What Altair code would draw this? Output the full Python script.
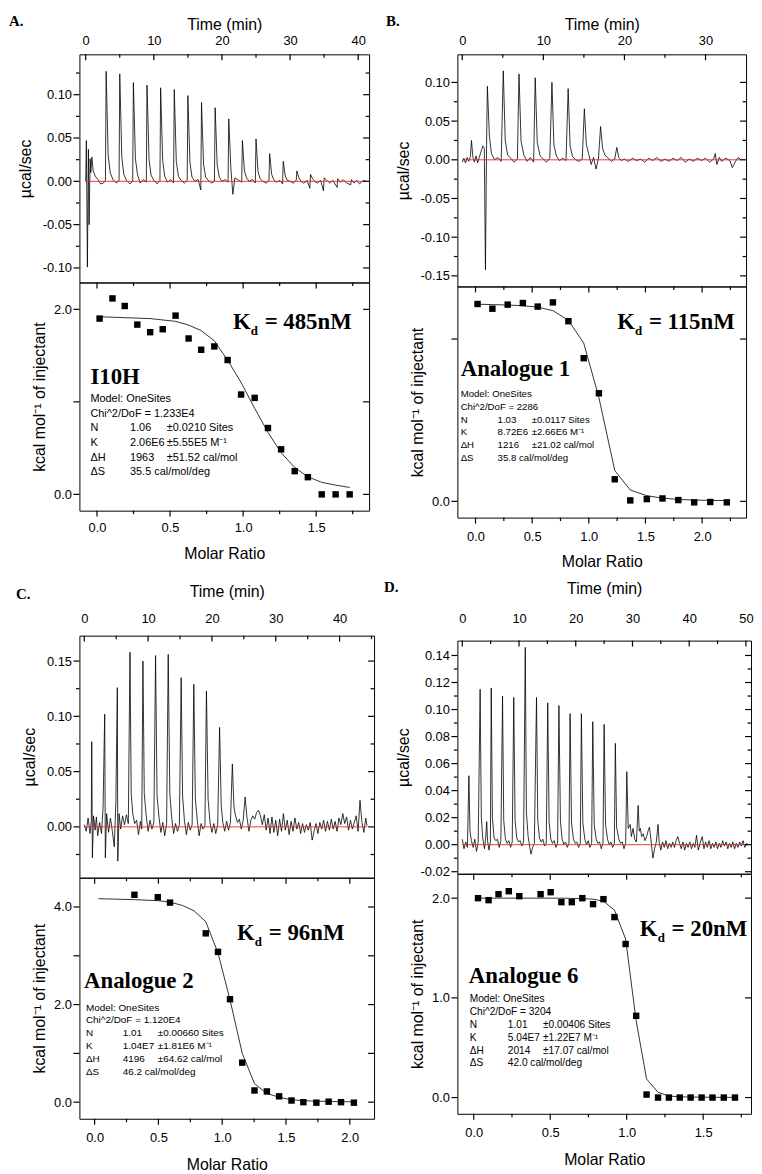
import altair as alt
import pandas as pd

SANS = "Liberation Sans"
SERIF = "Liberation Serif"

# ---------------- data ----------------
# raw thermograms: (time in min, µcal/sec)
A_trace = [(0.0, 0.0), (0.1, 0.047), (0.25, -0.099), (0.4, 0.037), (0.5, -0.05), (0.65, 0.026), (0.75, 0.01),
           (0.9, 0.028), (1.1, 0.012), (1.4, 0.006), (1.8, 0.002), (2.2, -0.003), (2.6, -0.002), (2.9, 0.001),
           (3.0, 0.127), (3.3, 0.03), (3.6, 0.01), (4.0, 0.002), (4.5, -0.002), (4.9, 0.001),
           (5.0, 0.124), (5.3, 0.028), (5.6, 0.008), (6.0, 0.001), (6.5, -0.003), (6.9, 0.0),
           (7.0, 0.114), (7.3, 0.026), (7.6, 0.008), (8.0, -0.002), (8.5, 0.002), (8.9, -0.001),
           (9.0, 0.111), (9.3, 0.025), (9.6, 0.007), (10.0, 0.001), (10.5, -0.003), (10.9, 0.001),
           (11.0, 0.108), (11.3, 0.024), (11.6, 0.006), (12.0, -0.001), (12.5, 0.002), (12.9, -0.002),
           (13.0, 0.106), (13.3, 0.023), (13.6, 0.006), (14.0, 0.001), (14.5, -0.002), (14.9, 0.001),
           (15.0, 0.099), (15.3, 0.022), (15.6, 0.005), (16.0, 0.0), (16.5, 0.002), (16.9, -0.01),
           (17.0, 0.091), (17.3, 0.02), (17.6, 0.005), (18.0, 0.001), (18.5, -0.002), (18.9, 0.0),
           (19.0, 0.085), (19.3, 0.019), (19.6, 0.005), (20.0, 0.0), (20.5, 0.002), (20.9, -0.001),
           (21.0, 0.072), (21.3, 0.016), (21.6, -0.015), (21.9, 0.004), (22.3, 0.002), (22.9, -0.001),
           (23.0, 0.047), (23.3, 0.012), (23.6, 0.004), (24.0, 0.0), (24.5, 0.002), (24.9, -0.002),
           (25.0, 0.049), (25.3, 0.011), (25.6, 0.003), (26.0, 0.0), (26.5, -0.002), (26.9, 0.001),
           (27.0, 0.032), (27.3, 0.008), (27.6, 0.002), (28.0, -0.001), (28.5, 0.001), (28.9, -0.003),
           (29.0, 0.023), (29.3, 0.006), (29.6, 0.001), (30.0, 0.0), (30.5, -0.002), (30.9, 0.001),
           (31.0, 0.012), (31.3, 0.004), (31.6, 0.0), (32.0, -0.002), (32.5, 0.001), (32.9, -0.008),
           (33.0, 0.008), (33.3, 0.003), (33.6, 0.0), (34.0, -0.002), (34.5, 0.001), (34.9, -0.011),
           (35.0, 0.004), (35.4, 0.001), (35.8, -0.002), (36.3, 0.001), (36.9, -0.007),
           (37.0, 0.003), (37.4, -0.001), (37.8, 0.002), (38.3, -0.002), (38.9, -0.004),
           (39.0, 0.002), (39.4, -0.002), (39.8, 0.001), (40.2, -0.003), (40.6, 0.0), (41.0, 0.001)]
A_base_t = [0.0, 41.0]

B_trace = [(0.0, -0.003), (0.2, 0.002), (0.4, -0.004), (0.6, 0.003), (0.8, -0.002), (1.0, 0.004), (1.14, 0.025),
           (1.3, 0.004), (1.5, -0.003), (1.7, 0.005), (1.9, -0.004), (2.1, 0.003), (2.3, 0.01), (2.55, 0.018),
           (2.72, 0.015), (2.86, -0.142), (3.0, 0.02), (3.1, 0.095), (3.35, 0.03), (3.6, 0.008), (4.0, 0.0),
           (4.4, 0.003), (4.8, -0.002),
           (5.06, 0.115), (5.3, 0.025), (5.6, 0.006), (6.0, 0.002), (6.4, -0.003), (6.8, 0.001),
           (7.0, 0.111), (7.25, 0.024), (7.6, 0.006), (8.0, -0.002), (8.4, 0.003), (8.8, -0.003),
           (9.0, 0.106), (9.25, 0.022), (9.6, 0.005), (10.0, 0.001), (10.4, -0.003), (10.8, 0.002),
           (11.06, 0.1), (11.3, 0.02), (11.6, 0.005), (12.0, -0.001), (12.4, 0.002), (12.8, -0.001),
           (13.06, 0.092), (13.3, 0.018), (13.6, 0.004), (14.0, 0.0), (14.4, -0.002), (14.8, 0.001),
           (15.06, 0.066), (15.3, 0.02), (15.6, 0.007), (15.9, -0.006), (16.2, 0.003), (16.5, -0.012), (16.8, 0.002),
           (17.06, 0.043), (17.3, 0.015), (17.6, 0.006), (18.0, 0.002), (18.4, -0.002), (18.8, 0.001),
           (19.06, 0.016), (19.3, 0.003), (19.6, -0.001), (20.0, 0.001), (20.5, -0.002), (21.0, 0.002),
           (21.5, -0.001), (22.0, 0.001), (22.5, -0.003), (23.0, 0.002), (23.5, -0.001), (24.0, 0.003),
           (24.5, -0.002), (25.0, 0.001), (25.5, -0.002), (26.0, 0.002), (26.5, -0.001), (27.0, 0.003),
           (27.5, -0.003), (28.0, 0.001), (28.5, -0.002), (29.0, 0.002), (29.5, -0.001), (30.0, 0.002),
           (30.5, -0.003), (31.0, 0.001), (31.2, 0.008), (31.4, -0.006), (31.7, 0.003), (32.0, -0.002),
           (32.5, 0.002), (33.0, -0.001), (33.3, -0.01), (33.6, -0.004), (34.0, 0.003), (34.4, 0.0)]
B_base_t = [0.0, 34.4]

C_trace = [(0.0, 0.002), (0.3, -0.004), (0.6, 0.008), (0.9, -0.006), (1.1, 0.005), (1.17, 0.077), (1.27, -0.028),
           (1.45, 0.01), (1.7, -0.003), (1.9, 0.009), (2.1, -0.008), (2.4, 0.004), (2.7, -0.006), (2.95, 0.018),
           (3.2, 0.102), (3.3, -0.028), (3.5, 0.012), (3.8, -0.005), (4.1, 0.008), (4.4, -0.004), (4.7, -0.018),
           (4.95, 0.022), (5.18, 0.126), (5.25, -0.031), (5.45, 0.012), (5.7, -0.002), (6.0, 0.01), (6.3, 0.002),
           (6.6, 0.011), (6.9, 0.003), (7.16, 0.158), (7.35, 0.03), (7.6, 0.012), (7.9, 0.003), (8.2, 0.006),
           (8.5, -0.007), (8.8, 0.005), (9.0, -0.002), (9.19, 0.15), (9.4, 0.03), (9.7, 0.01), (10.0, -0.004),
           (10.3, 0.006), (10.6, -0.002), (10.9, 0.004), (11.17, 0.155), (11.4, 0.028), (11.7, 0.009),
           (12.0, -0.005), (12.3, 0.004), (12.6, -0.008), (12.9, 0.003), (13.15, 0.156), (13.4, 0.03),
           (13.7, 0.008), (14.0, -0.006), (14.3, 0.003), (14.6, -0.004), (14.9, 0.002), (15.18, 0.135),
           (15.4, 0.028), (15.7, 0.005), (16.0, -0.007), (16.3, 0.004), (16.6, -0.003), (16.9, 0.002),
           (17.16, 0.129), (17.4, 0.026), (17.7, 0.006), (18.0, -0.008), (18.3, 0.003), (18.6, -0.002),
           (18.9, 0.001), (19.14, 0.123), (19.4, 0.025), (19.7, 0.004), (20.0, -0.005), (20.3, 0.003),
           (20.6, -0.006), (20.9, 0.002), (21.2, 0.09), (21.45, 0.02), (21.7, 0.004), (22.0, -0.004),
           (22.3, 0.005), (22.6, -0.003), (22.9, 0.004), (23.2, 0.057), (23.45, 0.018), (23.7, 0.01),
           (24.0, 0.004), (24.3, 0.007), (24.6, -0.002), (24.9, 0.006), (25.2, 0.027), (25.5, 0.008),
           (25.8, -0.004), (26.1, 0.006), (26.4, 0.01), (26.7, 0.007), (27.0, 0.013), (27.3, 0.015),
           (27.6, 0.01), (27.9, 0.002), (28.2, 0.011), (28.5, -0.003), (28.8, 0.008), (29.1, -0.006),
           (29.4, 0.009), (29.7, -0.005), (30.0, 0.006), (30.3, -0.008), (30.6, 0.007), (30.9, -0.004),
           (31.2, 0.012), (31.5, -0.003), (31.8, 0.006), (32.1, -0.007), (32.4, 0.005), (32.7, -0.004),
           (33.0, 0.008), (33.3, -0.002), (33.6, 0.004), (33.9, -0.006), (34.2, 0.003), (34.5, -0.005),
           (34.8, 0.002), (35.1, -0.003), (35.4, 0.004), (35.7, -0.012), (36.0, -0.004), (36.3, 0.003),
           (36.6, -0.006), (36.9, 0.004), (37.2, -0.002), (37.5, 0.006), (37.8, -0.004), (38.1, 0.005),
           (38.4, -0.003), (38.7, 0.007), (39.0, -0.002), (39.3, 0.005), (39.6, -0.004), (39.9, 0.008),
           (40.2, 0.002), (40.5, 0.012), (40.8, 0.003), (41.1, 0.009), (41.4, -0.003), (41.7, 0.006),
           (42.0, -0.002), (42.3, 0.004), (42.6, 0.01), (42.9, -0.004), (43.2, 0.024), (43.5, 0.004),
           (43.8, -0.005), (44.1, 0.008), (44.3, 0.001)]
C_base_t = [0.0, 44.3]

D_trace = [(0.0, 0.004), (0.3, -0.003), (0.6, 0.002), (0.9, -0.002), (1.16, 0.051), (1.35, 0.01), (1.6, 0.003),
           (1.9, -0.002), (2.2, 0.004), (2.5, -0.005), (2.8, 0.002), (3.14, 0.115), (3.35, 0.02), (3.6, 0.005),
           (3.9, -0.003), (4.1, 0.004), (4.3, 0.017), (4.45, 0.003), (4.7, -0.004), (4.95, 0.002), (5.1, 0.116),
           (5.3, 0.02), (5.6, 0.005), (5.9, 0.003), (6.2, 0.004), (6.5, -0.002), (6.8, 0.003), (7.09, 0.11),
           (7.3, 0.018), (7.6, 0.004), (7.9, 0.001), (8.2, 0.003), (8.5, -0.002), (8.8, 0.002), (9.07, 0.109),
           (9.3, 0.018), (9.6, 0.005), (9.9, 0.002), (10.2, 0.003), (10.5, -0.001), (10.8, 0.002), (11.1, 0.146),
           (11.3, 0.024), (11.6, 0.006), (11.9, -0.002), (12.1, -0.007), (12.4, -0.002), (12.7, 0.001),
           (13.08, 0.109), (13.3, 0.018), (13.6, 0.005), (13.9, 0.002), (14.2, 0.004), (14.5, -0.001),
           (14.8, 0.001), (15.06, 0.105), (15.3, 0.017), (15.6, 0.004), (15.9, 0.001), (16.2, 0.003),
           (16.5, -0.002), (16.8, 0.001), (17.03, 0.103), (17.3, 0.017), (17.6, 0.004), (17.9, 0.0),
           (18.2, 0.002), (18.5, -0.002), (18.8, 0.001), (19.0, 0.097), (19.25, 0.016), (19.6, 0.004),
           (19.9, 0.001), (20.2, 0.002), (20.5, -0.002), (20.8, 0.001), (20.99, 0.097), (21.25, 0.016),
           (21.6, 0.004), (21.9, 0.0), (22.2, 0.003), (22.5, -0.002), (22.8, 0.001), (23.0, 0.091),
           (23.25, 0.015), (23.6, 0.004), (23.9, 0.001), (24.2, 0.002), (24.5, -0.003), (24.8, 0.001),
           (25.0, 0.089), (25.25, 0.015), (25.6, 0.004), (25.9, 0.0), (26.2, 0.002), (26.5, -0.002),
           (26.8, 0.001), (26.98, 0.075), (27.2, 0.013), (27.6, 0.004), (27.9, 0.001), (28.2, 0.002),
           (28.5, -0.003), (28.8, 0.001), (29.0, 0.054), (29.25, 0.012), (29.6, 0.015), (29.8, 0.006),
           (30.1, 0.012), (30.4, 0.004), (30.7, 0.002), (31.0, 0.029), (31.2, 0.01), (31.4, 0.012),
           (31.6, 0.006), (31.9, 0.008), (32.2, 0.003), (32.5, 0.006), (32.8, 0.011), (33.0, 0.013),
           (33.3, 0.002), (33.6, -0.01), (33.9, -0.003), (34.2, 0.002), (34.5, 0.015), (34.7, 0.002),
           (35.0, -0.004), (35.3, 0.002), (35.6, -0.002), (35.9, 0.003), (36.2, -0.003), (36.5, 0.001),
           (36.8, -0.002), (37.1, 0.002), (37.4, -0.002), (37.7, 0.003), (38.0, 0.006), (38.3, 0.001),
           (38.6, -0.003), (38.9, 0.002), (39.2, -0.004), (39.5, 0.001), (39.8, -0.002), (40.1, 0.002),
           (40.4, -0.003), (40.7, 0.001), (41.0, -0.002), (41.3, 0.007), (41.6, -0.004), (41.9, 0.001),
           (42.3, 0.006), (42.6, -0.003), (42.9, 0.002), (43.2, -0.002), (43.5, 0.003), (43.8, -0.003),
           (44.1, 0.001), (44.4, -0.002), (44.7, 0.002), (45.0, -0.003), (45.3, 0.001), (45.6, -0.002),
           (45.9, 0.003), (46.2, -0.001), (46.5, 0.002), (46.8, -0.003), (47.1, 0.001), (47.4, -0.002),
           (47.7, 0.002), (48.0, -0.003), (48.3, 0.001), (48.6, -0.002), (48.9, 0.002), (49.2, -0.001),
           (49.5, 0.003), (49.8, -0.002), (50.1, 0.001), (50.4, 0.0)]
D_base_t = [0.0, 50.4]

# integrated heats: molar ratio, kcal/mol of injectant
A_ratio = [0.018, 0.106, 0.19, 0.276, 0.364, 0.45, 0.538, 0.627, 0.713, 0.803, 0.894, 0.986, 1.079,
           1.17, 1.26, 1.353, 1.443, 1.538, 1.633, 1.729]
A_heat = [1.90, 2.118, 2.036, 1.835, 1.753, 1.785, 1.932, 1.685, 1.563, 1.599, 1.452, 1.079, 1.043,
          0.717, 0.487, 0.251, 0.186, 0.0, 0.0, 0.0]
A_fit = [(0.018, 1.92), (0.19, 1.91), (0.364, 1.90), (0.538, 1.87), (0.627, 1.83), (0.713, 1.77), (0.803, 1.66),
         (0.894, 1.45), (0.986, 1.21), (1.079, 0.93), (1.17, 0.67), (1.26, 0.45), (1.353, 0.29), (1.443, 0.19),
         (1.538, 0.13), (1.633, 0.10), (1.729, 0.075)]

B_ratio = [0.018, 0.149, 0.284, 0.418, 0.549, 0.683, 0.82, 0.955, 1.089, 1.229, 1.366, 1.512, 1.65, 1.79,
           1.93, 2.072, 2.218]
B_heat = [1.216, 1.187, 1.212, 1.222, 1.2, 1.226, 1.11, 0.882, 0.666, 0.136, 0.006, 0.014, 0.018, 0.008,
          -0.006, -0.004, -0.006]
B_fit = [(0.018, 1.215), (0.149, 1.212), (0.284, 1.21), (0.418, 1.205), (0.549, 1.197), (0.683, 1.175),
         (0.82, 1.115), (0.955, 0.975), (1.089, 0.64), (1.229, 0.19), (1.366, 0.07), (1.512, 0.035),
         (1.65, 0.02), (1.79, 0.012), (1.93, 0.008), (2.072, 0.006), (2.218, 0.005)]

C_ratio = [0.312, 0.495, 0.591, 0.871, 0.967, 1.061, 1.157, 1.253, 1.35, 1.446, 1.543, 1.636, 1.738, 1.834,
           1.931, 2.032]
C_heat = [4.25, 4.2, 4.09, 3.46, 3.08, 2.11, 0.81, 0.24, 0.22, 0.12, 0.034, 0.0, -0.01, 0.01, 0.0, -0.01]
C_fit = [(0.03, 4.17), (0.312, 4.15), (0.495, 4.13), (0.591, 4.10), (0.69, 4.03), (0.78, 3.92), (0.871, 3.70),
         (0.967, 3.06), (1.061, 2.10), (1.157, 1.0), (1.253, 0.38), (1.35, 0.18), (1.446, 0.10), (1.543, 0.05),
         (1.636, 0.03), (1.738, 0.02), (1.834, 0.015), (1.931, 0.01), (2.032, 0.008)]

D_ratio = [0.028, 0.097, 0.162, 0.229, 0.298, 0.437, 0.503, 0.573, 0.641, 0.71, 0.78, 0.848, 0.92, 0.993,
           1.062, 1.13, 1.205, 1.276, 1.347, 1.418, 1.49, 1.561, 1.635, 1.708]
D_heat = [2.00, 1.98, 2.04, 2.07, 2.02, 2.04, 2.06, 1.96, 1.96, 2.00, 1.94, 1.99, 1.81, 1.54, 0.82, 0.03,
          0.0, 0.0, 0.0, 0.0, 0.0, 0.0, 0.0, 0.0]
D_fit = [(0.028, 2.0), (0.298, 2.0), (0.573, 2.0), (0.71, 1.995), (0.78, 1.99), (0.848, 1.97), (0.92, 1.88),
         (0.993, 1.59), (1.062, 0.77), (1.13, 0.186), (1.205, 0.053), (1.276, 0.015), (1.347, 0.008),
         (1.418, 0.005), (1.49, 0.004), (1.561, 0.003), (1.635, 0.002), (1.708, 0.002)]

# annotation texts
A_info = dict(name="I10H", kd="= 485nM", chi="1.233E4", N=("1.06", "±0.0210 Sites"), K=("2.06E6", "±5.55E5 M⁻¹"),
              H=("1963", "±51.52 cal/mol"), S="35.5 cal/mol/deg")
B_info = dict(name="Analogue 1", kd="= 115nM", chi="2286", N=("1.03", "±0.0117 Sites"), K=("8.72E6", "±2.66E6 M⁻¹"),
              H=("1216", "±21.02 cal/mol"), S="35.8 cal/mol/deg")
C_info = dict(name="Analogue 2", kd="= 96nM", chi="1.120E4", N=("1.01", "±0.00660 Sites"),
              K=("1.04E7", "±1.81E6 M⁻¹"), H=("4196", "±64.62 cal/mol"), S="46.2 cal/mol/deg")
D_info = dict(name="Analogue 6", kd="= 20nM", chi="3204", N=("1.01", "±0.00406 Sites"),
              K=("5.04E7", "±1.22E7 M⁻¹"), H=("2014", "±17.07 cal/mol"), S="42.0 cal/mol/deg")

# ---------------- layout / axis settings ----------------
A_top = dict(letter="A.", lx=-71, ly=-29, w=292, ht=230, tdom=[-0.92, 41.6], tmaj=[0, 10, 20, 30, 40],
             tmin=[5, 15, 25, 35], vdom=[-0.1168, 0.1466], vmaj=[-0.1, -0.05, 0.0, 0.05, 0.1],
             vmin=[-0.075, -0.025, 0.025, 0.075, 0.125], tpad=12, ttp=2)
B_top = dict(letter="B.", lx=-72, ly=-29, w=291, ht=234, tdom=[-0.6, 35.0], tmaj=[0, 10, 20, 30],
             tmin=[5, 15, 25], vdom=[-0.1637, 0.1363], vmaj=[-0.15, -0.1, -0.05, 0.0, 0.05, 0.1],
             vmin=[-0.125, -0.075, -0.025, 0.025, 0.075], tpad=12, ttp=2)
C_top = dict(letter="C.", lx=-64, ly=-37, w=297, ht=244, tdom=[-0.76, 45.4], tmaj=[0, 10, 20, 30, 40],
             tmin=[5, 15, 25, 35, 45], vdom=[-0.046, 0.173], vmaj=[0.0, 0.05, 0.1, 0.15],
             vmin=[-0.025, 0.025, 0.075, 0.125], tpad=15.5, ttp=12.5)
D_top = dict(letter="D.", lx=-74, ly=-49, w=296, ht=235, tdom=[-0.87, 50.9], tmaj=[0, 10, 20, 30, 40, 50],
             tmin=[5, 15, 25, 35, 45], vdom=[-0.0215, 0.151],
             vmaj=[-0.02, 0.0, 0.02, 0.04, 0.06, 0.08, 0.1, 0.12, 0.14],
             vmin=[-0.01, 0.01, 0.03, 0.05, 0.07, 0.09, 0.11, 0.13], tpad=20.5, ttp=15.5)

A_bot = dict(w=292, hb=230, rdom=[-0.12, 1.862], rmaj=[0.0, 0.5, 1.0, 1.5], rmin=[0.25, 0.75, 1.25, 1.75],
             hdom=[-0.176, 2.29], hmaj=[0, 1, 2], hlab=[0, 2], bpad=6.5, btp=10.5,
             kd=(0.93, 1.785), nm=(-0.045, 1.19), par=(-0.045, 0.226, 0.477, 0.996), lh=14.7, fs=11)
B_bot = dict(w=291, hb=233, rdom=[-0.16, 2.388], rmaj=[0.0, 0.5, 1.0, 1.5, 2.0],
             rmin=[0.25, 0.75, 1.25, 1.75, 2.25], hdom=[-0.1, 1.324], hmaj=[0, 1], hlab=[0], bpad=8, btp=10.5,
             kd=(1.25, 1.059), nm=(-0.131, 0.774), par=(-0.131, 0.195, 0.496, 0.642), lh=12.8, fs=9.7)
C_bot = dict(w=297, hb=243, rdom=[-0.119, 2.19], rmaj=[0.0, 0.5, 1.0, 1.5, 2.0], rmin=[0.25, 0.75, 1.25, 1.75],
             hdom=[-0.34, 4.6], hmaj=[0, 1, 2, 3, 4], hlab=[0, 2, 4], bpad=8, btp=12.5,
             kd=(1.116, 3.315), nm=(-0.083, 2.35), par=(-0.068, 0.221, 0.495, 1.878), lh=13, fs=10)
D_bot = dict(w=296, hb=242, rdom=[-0.107, 1.813], rmaj=[0.0, 0.5, 1.0, 1.5], rmin=[0.25, 0.75, 1.25, 1.75],
             hdom=[-0.163, 2.245], hmaj=[0, 1, 2], hlab=[0, 1, 2], bpad=8, btp=12.5,
             kd=(1.086, 1.619), nm=(-0.032, 1.154), par=(-0.026, 0.223, 0.453, 0.955), lh=12.9, fs=10.2)

ONE = pd.DataFrame({"k": [0]})
MAJ, MIN = 6, 3.5
TICK_W = 1.2


def num_list(v):
    return "[" + ",".join(repr(float(x)) for x in v) + "]"


def lab(labeled, d):
    return (f"indexof({num_list(labeled)}, datum.value) >= 0 ? "
            f"replace(format(datum.value, '.{d}f'), '\u2212', '-') : ''")


def yticks(vals, ys, x0, x1):
    """short horizontal tick segments at the given y values"""
    return alt.Chart(pd.DataFrame({"v": vals})).mark_rule(color="black", strokeWidth=TICK_W).encode(
        y=alt.Y("v:Q", scale=ys, axis=None), x=alt.value(x0), x2=alt.value(x1))


def xticks(vals, xs, y0, y1):
    """short vertical tick segments at the given x values"""
    return alt.Chart(pd.DataFrame({"v": vals})).mark_rule(color="black", strokeWidth=TICK_W).encode(
        x=alt.X("v:Q", scale=xs, axis=None), y=alt.value(y0), y2=alt.value(y1))


def top_chart(c, trace, base_t):
    df = pd.DataFrame(trace, columns=["t", "v"])
    bdf = pd.DataFrame({"t": base_t, "v": [0.0, 0.0]})
    xs = alt.Scale(domain=c["tdom"], nice=False, zero=False)
    ys = alt.Scale(domain=c["vdom"], nice=False, zero=False)
    w, h = c["w"], c["ht"]
    x_axis = alt.Axis(orient="top", title="Time (min)", values=c["tmaj"], labelExpr=lab(c["tmaj"], 0),
                      tickSize={"expr": "-5"}, tickOpacity=0, labelPadding=c["tpad"],
                      titlePadding=c["ttp"])
    y_axis = alt.Axis(orient="left", title="µcal/sec", values=c["vmaj"], labelExpr=lab(c["vmaj"], 2),
                      tickSize=5, tickOpacity=0, labelPadding=3, titlePadding=9)
    trace_l = alt.Chart(df).mark_line(color="black", strokeWidth=0.8, clip=True).encode(
        x=alt.X("t:Q", scale=xs, axis=x_axis), y=alt.Y("v:Q", scale=ys, axis=y_axis))
    base_l = alt.Chart(bdf).mark_line(color="#e3262a", strokeWidth=0.9).encode(
        x=alt.X("t:Q", scale=xs, axis=None), y=alt.Y("v:Q", scale=ys, axis=None))
    ticks = [
        yticks(c["vmaj"], ys, -MAJ, 0), yticks(c["vmin"], ys, -MIN, 0),
        yticks(c["vmaj"], ys, w - MAJ, w), yticks(c["vmin"], ys, w - MIN, w),
        xticks(c["tmaj"], xs, 0, MAJ), xticks(c["tmin"], xs, 0, MIN),
    ]
    letter = alt.Chart(ONE).mark_text(text=c["letter"], font=SERIF, fontWeight="bold", fontSize=15,
                                      align="left", baseline="alphabetic", color="black").encode(
        x=alt.value(c["lx"]), y=alt.value(c["ly"]))
    return alt.layer(trace_l, base_l, *ticks, letter).resolve_axis(
        x="independent", y="independent").properties(width=w, height=h)


def txt(s, x, y, xs, ys, **mk):
    return alt.Chart(ONE).mark_text(text=s, align="left", baseline="alphabetic", color="black", **mk).encode(
        x=alt.XDatum(x, type="quantitative", scale=xs, axis=None),
        y=alt.YDatum(y, type="quantitative", scale=ys, axis=None))


def text_column(lines, x, y0, step, xs, ys, **mk):
    rows = [(y0 - i * step, s) for i, s in enumerate(lines) if s]
    df = pd.DataFrame(rows, columns=["y", "s"])
    return alt.Chart(df).mark_text(align="left", baseline="alphabetic", color="black", **mk).encode(
        x=alt.XDatum(x, type="quantitative", scale=xs, axis=None),
        y=alt.Y("y:Q", scale=ys, axis=None), text="s:N")


def bottom_chart(c, ratio, heat, fit, info):
    pdf = pd.DataFrame({"r": ratio, "h": heat})
    fdf = pd.DataFrame(fit, columns=["r", "h"])
    xs = alt.Scale(domain=c["rdom"], nice=False, zero=False)
    ys = alt.Scale(domain=c["hdom"], nice=False, zero=False)
    w, h = c["w"], c["hb"]
    x_axis = alt.Axis(orient="bottom", title="Molar Ratio", values=c["rmaj"], labelExpr=lab(c["rmaj"], 1),
                      tickSize=5, tickOpacity=0, labelPadding=c["bpad"], titlePadding=c["btp"])
    y_axis = alt.Axis(orient="left", title="kcal mol⁻¹ of injectant", values=c["hmaj"],
                      labelExpr=lab(c["hlab"], 1), tickSize=5, tickOpacity=0, labelPadding=3, titlePadding=6)
    fitl = alt.Chart(fdf).mark_line(color="black", strokeWidth=0.8).encode(
        x=alt.X("r:Q", scale=xs, axis=None), y=alt.Y("h:Q", scale=ys, axis=None))
    pts = alt.Chart(pdf).mark_square(size=42, color="black", opacity=1).encode(
        x=alt.X("r:Q", scale=xs, axis=x_axis), y=alt.Y("h:Q", scale=ys, axis=y_axis))
    ticks = [
        yticks(c["hmaj"], ys, -MAJ, 0), yticks(c["hmaj"], ys, w - MAJ, w),
        xticks(c["rmaj"], xs, 0, MAJ), xticks(c["rmin"], xs, 0, MIN),
        xticks(c["rmaj"], xs, h, h + MAJ), xticks(c["rmin"], xs, h, h + MIN),
    ]
    kx, ky = c["kd"]
    nx, ny = c["nm"]
    px, vx, ex, py = c["par"]
    step = c["lh"] * (c["hdom"][1] - c["hdom"][0]) / h
    big = dict(font=SERIF, fontWeight="bold", fontSize=23)
    small = dict(font=SANS, fontSize=c["fs"])
    col1 = ["Model: OneSites", "Chi^2/DoF = " + info["chi"], "N", "K", "ΔH", "ΔS"]
    col2 = ["", "", info["N"][0], info["K"][0], info["H"][0], info["S"]]
    col3 = ["", "", info["N"][1], info["K"][1], info["H"][1], ""]
    layers = [
        fitl, pts, *ticks,
        txt("K", kx, ky, xs, ys, **big),
        txt("d", kx, ky, xs, ys, font=SERIF, fontWeight="bold", fontSize=13, dx=18, dy=6),
        txt(info["kd"], kx, ky, xs, ys, dx=32, **big),
        txt(info["name"], nx, ny, xs, ys, **big),
        text_column(col1, px, py, step, xs, ys, **small),
        text_column(col2, vx, py, step, xs, ys, **small),
        text_column(col3, ex, py, step, xs, ys, **small),
    ]
    return alt.layer(*layers).resolve_axis(x="independent", y="independent").properties(width=w, height=h)


def panel(tc, trace, base_t, bc, ratio, heat, fit, info):
    return alt.vconcat(top_chart(tc, trace, base_t), bottom_chart(bc, ratio, heat, fit, info),
                       spacing=0, bounds="flush")


pA = panel(A_top, A_trace, A_base_t, A_bot, A_ratio, A_heat, A_fit, A_info)
pB = panel(B_top, B_trace, B_base_t, B_bot, B_ratio, B_heat, B_fit, B_info)
pC = panel(C_top, C_trace, C_base_t, C_bot, C_ratio, C_heat, C_fit, C_info)
pD = panel(D_top, D_trace, D_base_t, D_bot, D_ratio, D_heat, D_fit, D_info)

left = alt.vconcat(pA, pC, spacing=21)
right = alt.vconcat(pB, pD, spacing=9)

chart = alt.hconcat(left, right, spacing=7).properties(
    padding={"left": 0, "top": 0, "right": 0, "bottom": 0}
).configure_view(stroke="black", strokeWidth=1).configure_axis(
    labelFont=SANS, labelFontSize=13, titleFont=SANS, titleFontSize=16, titleFontWeight="normal",
    labelColor="black", titleColor="black", tickColor="black", tickWidth=1, domain=False, grid=False,
    labelOverlap=False, labelFlush=False, labelBound=False)

chart.save("out.html", embed_options={"renderer": "svg", "actions": False})
